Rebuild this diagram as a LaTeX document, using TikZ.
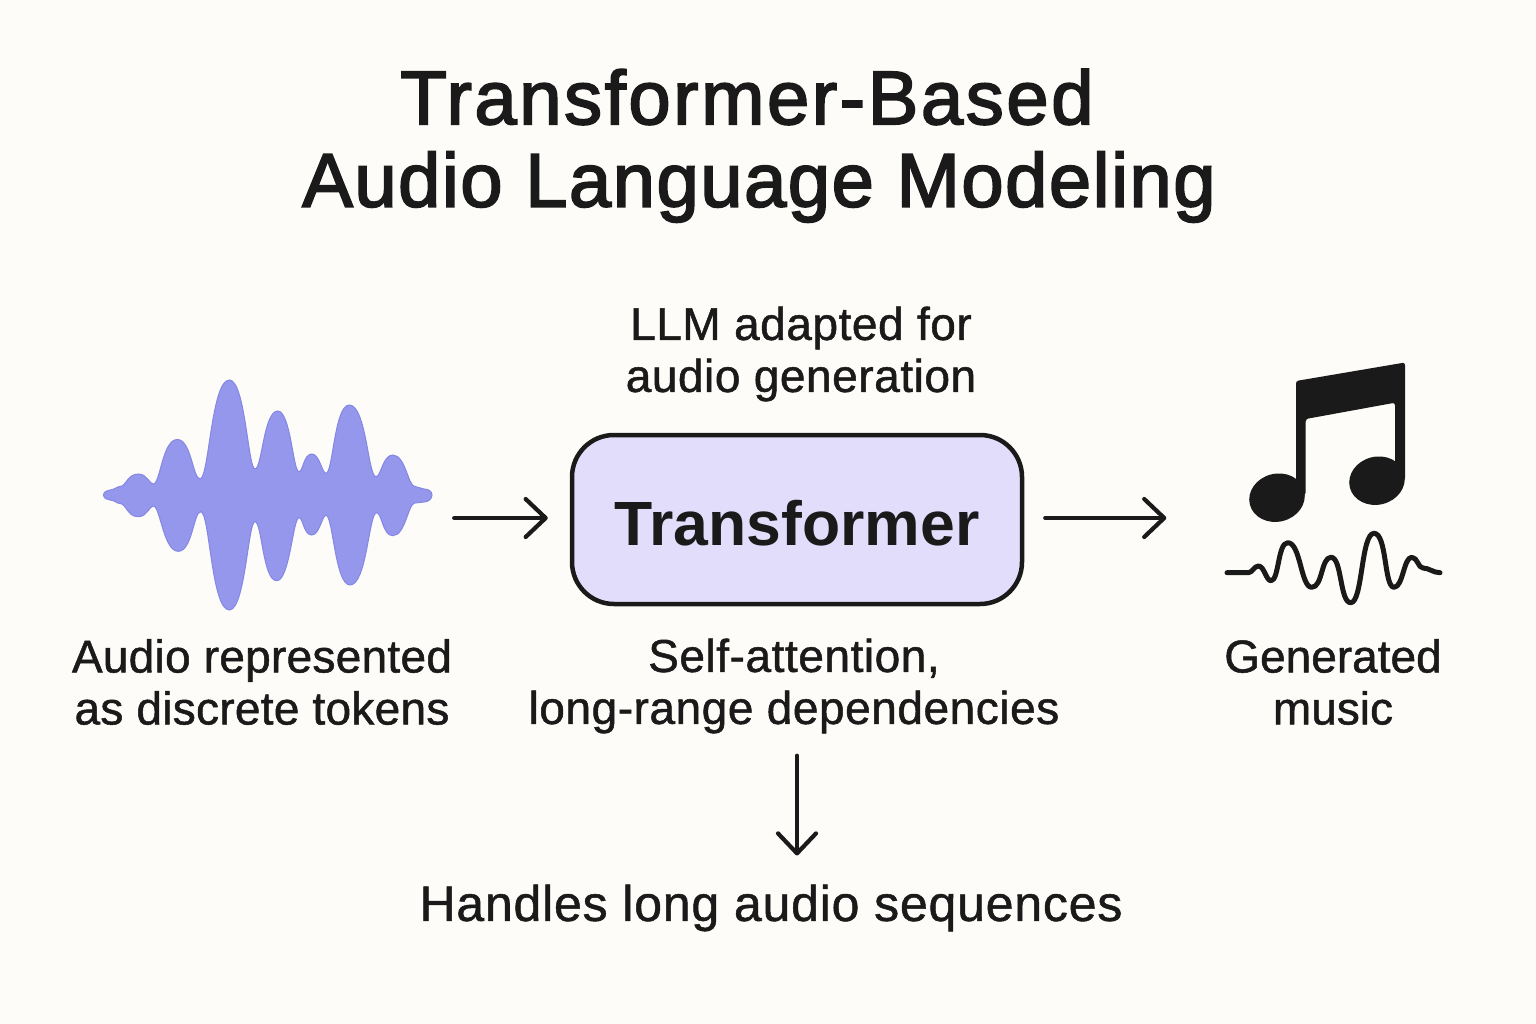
\documentclass[tikz,border=0pt]{standalone}
\usepackage{fontspec}
\usepackage{tikz}
\usetikzlibrary{arrows.meta}
\setmainfont{Liberation Sans}
\newcommand{\heavy}[2]{\special{pdf:literal 2 Tr #1 w}#2\special{pdf:literal 0 Tr}}
\definecolor{paper}{HTML}{FDFCF8}
\definecolor{ink}{HTML}{1A1A1A}
\definecolor{wavefill}{HTML}{9497EC}
\definecolor{waveedge}{HTML}{8488E4}
\definecolor{boxfill}{HTML}{E2DDFB}
\tikzset{label/.style={inner sep=0pt,align=center,text=ink,font=\fontsize{46}{52}\selectfont\addfontfeature{LetterSpace=#1},
                       execute at begin node=\special{pdf:literal 2 Tr .5 w},execute at end node=\special{pdf:literal 0 Tr}}}
\tikzset{label/.default=0}
\tikzset{heading/.style={inner sep=0pt,text=ink,font=\fontsize{76}{84}\selectfont\addfontfeature{LetterSpace=#1}}}
\tikzset{flow/.style={draw=ink,line width=4.2pt,line cap=round,-{Straight Barb[length=20pt,width=38pt,round]}}}
\tikzset{wv/.style 2 args={out=0,in=180,out distance=#1,in distance=#2}}
\tikzset{vw/.style 2 args={out=180,in=0,out distance=#1,in distance=#2}}

\begin{document}
\begin{tikzpicture}
                [x=1pt,y=-1pt]
                \fill [paper] (0,0) rectangle (1536,1024);
                \useasboundingbox (0,0) rectangle (1536,1024);

                \node [heading=3.4] (t1) at (747,97) {\heavy{1.8}{Transformer-Based}};
                \node [heading=2] (t2) at (759,187) {\heavy{1.8}{Audio Language Modeling}};

                \node [label=1.2] (llm) at (801,354) {LLM adapted for\\audio generation};
                \node [rounded corners=42pt,draw=ink,line width=4.5pt,fill=boxfill,minimum width=450pt,minimum height=169pt,text height=53pt,
                       font=\bfseries\fontsize{62.5}{70}\selectfont,text=ink] (box) at (797,519.5) {Transformer};

                \node [inner sep=0pt,minimum width=329pt,minimum height=230pt] (wave) at (267.5,495) {};
                \node [inner sep=0pt,minimum width=215pt,minimum height=240pt] (music) at (1333,483) {};

                \node [label=.6] (audio) at (262,682) {Audio represented\\as discrete tokens};
                \node [label=1.2] (deps) at (794,686) {Self-attention,\\long-range dependencies};
                \node [label] (gen) at (1333,682) {Generated\\music};
                \node [label=1.6,font=\fontsize{50}{58}\selectfont\addfontfeature{LetterSpace=1.6}] (seq) at (771,908) {Handles long audio sequences};

                % waveform
                \draw [waveedge,fill=wavefill,line width=1pt]
                    (103.5,495) to[out=90,in=180,distance=3] (110,490) to[wv={4}{3}] (120,486.5) to[wv={6}{11}] (138.3,474) to[wv={9}{4}] (153.3,484)
                    to[wv={7}{15}] (177.3,439.5) to[wv={14}{7}] (200,479) to[wv={9}{18}] (229.3,380) to[wv={16}{7}] (255,469)
                    to[wv={7}{14}] (277.7,411) to[wv={13}{6}] (299,471.7) to[wv={4}{8}] (311.7,454) to[wv={8}{4}] (326,473.3)
                    to[wv={7}{15}] (349.3,405) to[wv={17}{8}] (376,476.7) to[wv={5}{10}] (392.7,455) to[wv={13}{7}] (415,486.5)
                    to[wv={3}{3}] (424,489) to[out=0,in=90,distance=4] (432,495)
                    to[out=-90,in=0,distance=4] (424,502) to[vw={3}{3}] (415,503) to[vw={7}{13}] (392.7,535.7) to[vw={10}{5}] (376.7,512.7)
                    to[vw={8}{17}] (350,585) to[vw={15}{7}] (326,515.3) to[vw={4}{8}] (311.7,535) to[vw={8}{4}] (299,517.7)
                    to[vw={6}{13}] (276.7,580.7) to[vw={14}{7}] (255,521.7) to[vw={7}{16}] (229.3,610) to[vw={18}{9}] (200.7,511.7)
                    to[vw={7}{14}] (178.3,551.3) to[vw={15}{7}] (153.3,506) to[vw={4}{9}] (138.3,516.7) to[vw={11}{6}] (120,503.5)
                    to[vw={3}{4}] (110,500) to[out=180,in=-90,distance=3] (103.5,495) -- cycle;

                % notes
                \fill [ink,rounded corners=2.5pt] (1296,381) -- (1405,362.5) -- (1405,480) -- (1395,480) -- (1395,402.7)
                    -- (1305.7,419) -- (1305.7,495) -- (1296,495) -- cycle;
                \fill [ink,rotate around={14:(1277,497.7)}] (1277,497.7) ellipse (28 and 24);
                \fill [ink,rotate around={14:(1377,480.7)}] (1377,480.7) ellipse (28 and 24);

                \draw [ink,line width=5pt,line cap=round,line join=round]
                    (1227,572.7) to[wv={8}{4}] (1248.3,572.7) to[wv={4}{4}] (1258.3,566) to[wv={6}{5}] (1271,580.7)
                    to[wv={8}{10}] (1287.7,542.7) to[wv={13}{11}] (1311.7,587.3) to[wv={11}{10}] (1331,557.3) to[wv={11}{11}] (1350.7,602.7)
                    to[wv={12}{13}] (1374,533.3) to[wv={13}{10}] (1394,587.3) to[wv={9}{8}] (1411.7,557.3) to[wv={6}{5}] (1423,568) to[wv={6}{7}] (1440,572.7);

                \draw [flow,shorten <=22pt,shorten >=22pt] (wave.east |- box.west) ++(0,-1.5) -- ([yshift=1.5pt]box.west);
                \draw [flow,shorten <=21pt,shorten >=59pt] ([yshift=1.5pt]box.east) -- ([yshift=1.5pt]music.west |- box.east);
                \draw [flow,shorten <=22pt,shorten >=29pt] (box.south |- deps.south) -- (box.south |- seq.north);
\end{tikzpicture}
\end{document}
